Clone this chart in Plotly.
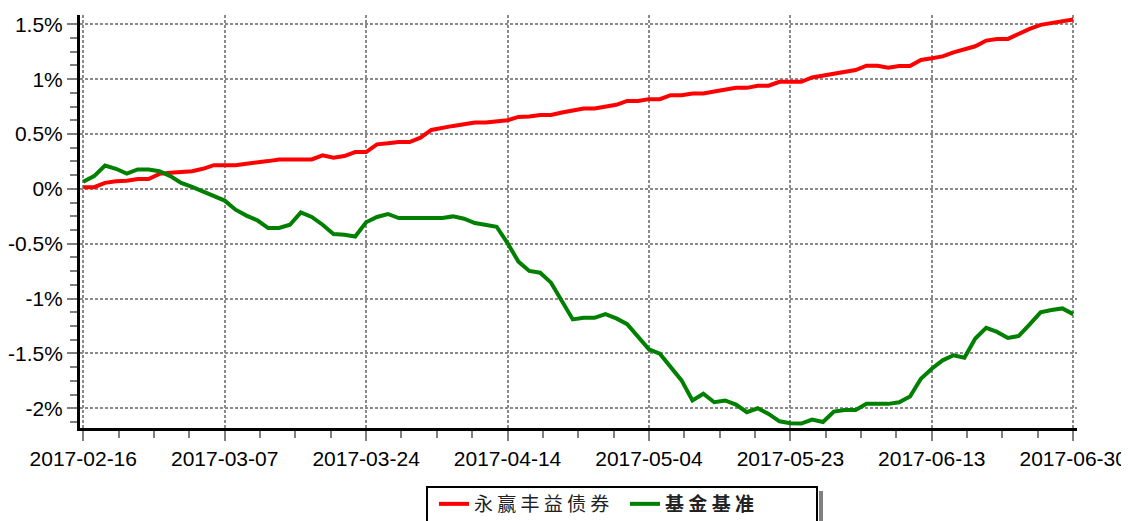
import plotly.graph_objects as go

dates = [
    "2017-02-16", "2017-02-17", "2017-02-20", "2017-02-21", "2017-02-22", "2017-02-23", "2017-02-24",
    "2017-02-27", "2017-02-28", "2017-03-01", "2017-03-02", "2017-03-03", "2017-03-06", "2017-03-07",
    "2017-03-08", "2017-03-09", "2017-03-10", "2017-03-13", "2017-03-14", "2017-03-15", "2017-03-16",
    "2017-03-17", "2017-03-20", "2017-03-21", "2017-03-22", "2017-03-23", "2017-03-24", "2017-03-27",
    "2017-03-28", "2017-03-29", "2017-03-30", "2017-03-31", "2017-04-05", "2017-04-06", "2017-04-07",
    "2017-04-10", "2017-04-11", "2017-04-12", "2017-04-13", "2017-04-14", "2017-04-17", "2017-04-18",
    "2017-04-19", "2017-04-20", "2017-04-21", "2017-04-24", "2017-04-25", "2017-04-26", "2017-04-27",
    "2017-04-28", "2017-05-02", "2017-05-03", "2017-05-04", "2017-05-05", "2017-05-08", "2017-05-09",
    "2017-05-10", "2017-05-11", "2017-05-12", "2017-05-15", "2017-05-16", "2017-05-17", "2017-05-18",
    "2017-05-19", "2017-05-22", "2017-05-23", "2017-05-24", "2017-05-25", "2017-05-26", "2017-05-31",
    "2017-06-01", "2017-06-02", "2017-06-05", "2017-06-06", "2017-06-07", "2017-06-08", "2017-06-09",
    "2017-06-12", "2017-06-13", "2017-06-14", "2017-06-15", "2017-06-16", "2017-06-19", "2017-06-20",
    "2017-06-21", "2017-06-22", "2017-06-23", "2017-06-26", "2017-06-27", "2017-06-28", "2017-06-29",
    "2017-06-30",
]

fund_name = "永赢丰益债券"
bench_name = "基金基准"

fund = [
    0.015, 0.015, 0.055, 0.070, 0.075, 0.090, 0.090, 0.137, 0.146, 0.158,
    0.161, 0.183, 0.216, 0.216, 0.216, 0.229, 0.238, 0.253, 0.268, 0.268,
    0.268, 0.268, 0.305, 0.284, 0.299, 0.335, 0.335, 0.406, 0.415, 0.427,
    0.427, 0.467, 0.537, 0.558, 0.574, 0.589, 0.604, 0.604, 0.619, 0.625,
    0.656, 0.659, 0.674, 0.674, 0.696, 0.711, 0.732, 0.732, 0.751, 0.766,
    0.802, 0.802, 0.818, 0.818, 0.854, 0.854, 0.870, 0.870, 0.888, 0.903,
    0.921, 0.921, 0.940, 0.940, 0.976, 0.976, 0.976, 1.016, 1.031, 1.047,
    1.062, 1.083, 1.123, 1.123, 1.105, 1.120, 1.120, 1.175, 1.190, 1.208,
    1.245, 1.270, 1.300, 1.352, 1.367, 1.367, 1.416, 1.459, 1.495, 1.511,
    1.529, 1.544,
]

bench = [
    0.064, 0.116, 0.213, 0.183, 0.140, 0.177, 0.177, 0.161, 0.116, 0.055,
    0.018, -0.022, -0.068, -0.107, -0.190, -0.244, -0.287, -0.357, -0.357, -0.327,
    -0.214, -0.256, -0.327, -0.412, -0.418, -0.434, -0.305, -0.256, -0.229, -0.266,
    -0.266, -0.266, -0.266, -0.266, -0.251, -0.272, -0.312, -0.333, -0.345, -0.495,
    -0.663, -0.748, -0.764, -0.855, -1.014, -1.190, -1.176, -1.176, -1.142, -1.181,
    -1.233, -1.350, -1.462, -1.502, -1.625, -1.746, -1.929, -1.868, -1.945, -1.929,
    -1.966, -2.036, -2.000, -2.051, -2.119, -2.137, -2.140, -2.103, -2.125, -2.030,
    -2.015, -2.015, -1.960, -1.960, -1.960, -1.945, -1.893, -1.731, -1.639, -1.563,
    -1.517, -1.539, -1.364, -1.267, -1.304, -1.359, -1.341, -1.236, -1.126, -1.105,
    -1.090, -1.142,
]

y_ticks = [-2.0, -1.5, -1.0, -0.5, 0.0, 0.5, 1.0, 1.5]
y_labels = ["-2%", "-1.5%", "-1%", "-0.5%", "0%", "0.5%", "1%", "1.5%"]

label_step = 13
x_idx = list(range(len(dates)))
x_tickvals = x_idx[::label_step]
x_ticktext = dates[::label_step]


def spaced(s):
    return " ".join(s)


fig = go.Figure()
fig.add_trace(go.Scatter(x=x_idx, y=fund, mode="lines", name=spaced(fund_name),
                         line=dict(color="#ff0000", width=4)))
fig.add_trace(go.Scatter(x=x_idx, y=bench, mode="lines",
                         name="<b>" + spaced(bench_name) + "</b>",
                         line=dict(color="#008000", width=4)))

tick_font = dict(family="Liberation Sans, Arial, sans-serif", size=21, color="#000000")

# page body has an 8px margin; figure coordinates are page coordinates minus 8
OFF = 8
W, H = 1129 - OFF, 521 - OFF
ML, MT = 80 - OFF, 15 - OFF
PW, PH = 997, 413
MR = W - ML - PW
MB = H - MT - PH


def px_x(p):
    return (p - OFF - ML) / PW


def px_y(p):
    return (MT + PH - (p - OFF)) / PH


fig.update_layout(
    width=W, height=H,
    margin=dict(l=ML, r=MR, t=MT, b=MB, autoexpand=False),
    paper_bgcolor="white", plot_bgcolor="white",
    showlegend=True,
    legend=dict(
        orientation="h", xref="container", yref="container",
        x=(434 - OFF) / W, xanchor="left", y=1 - (485 - OFF) / H, yanchor="top",
        borderwidth=0, bgcolor="rgba(0,0,0,0)",
        font=dict(family="Noto Sans CJK SC", size=19, color="#222222"),
        entrywidth=146, entrywidthmode="pixels", tracegroupgap=0,
    ),
    xaxis=dict(
        range=[-0.3, 91.35], tickmode="array", tickvals=x_tickvals, ticktext=x_ticktext,
        showline=True, linecolor="#000000", linewidth=3, automargin=False,
        ticks="outside", ticklen=10, tickwidth=1.5, tickcolor="#808080",
        showgrid=True, gridcolor="#8a8a8a", gridwidth=1.5, griddash="3px,2px",
        zeroline=False, tickfont=tick_font,
        minor=dict(dtick=label_step / 4, tick0=0, ticks="outside", ticklen=7,
                   tickwidth=1.5, tickcolor="#808080", showgrid=False),
    ),
    yaxis=dict(
        range=[-2.18, 1.585], tickmode="array", tickvals=y_ticks, ticktext=y_labels,
        showline=True, linecolor="#000000", linewidth=3, automargin=False,
        ticks="outside", ticklen=10, tickwidth=1.5, tickcolor="#808080",
        showgrid=True, gridcolor="#8a8a8a", gridwidth=1.5, griddash="3px,2px",
        zeroline=False, tickfont=tick_font,
        minor=dict(dtick=0.125, tick0=0, ticks="outside", ticklen=7,
                   tickwidth=1.5, tickcolor="#808080", showgrid=False),
    ),
    shapes=[
        # legend frame
        dict(type="rect", xref="paper", yref="paper",
             x0=px_x(427), x1=px_x(817), y0=px_y(535), y1=px_y(487),
             fillcolor="white", line=dict(color="#000000", width=2), layer="above"),
        # legend shadow
        dict(type="rect", xref="paper", yref="paper",
             x0=px_x(819), x1=px_x(823), y0=px_y(535), y1=px_y(491),
             fillcolor="#808080", line=dict(width=0), layer="above"),
    ],
)

fig.write_html("out.html")
